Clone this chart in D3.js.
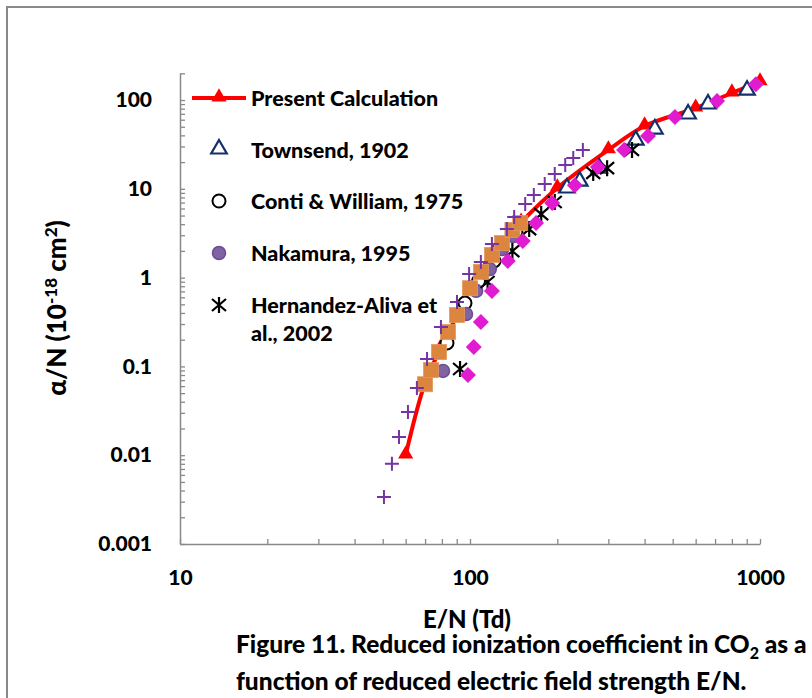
<!DOCTYPE html>
<html>
<head>
<meta charset="utf-8">
<script src="https://cdn.jsdelivr.net/npm/d3@7"></script>
<style>
  body { margin: 0; background: #fff; }
  text { font-family: Lato, "Open Sans", sans-serif; font-weight: 900; fill: #000; }
</style>
</head>
<body>
<svg id="chart" width="812" height="698"></svg>
<script>
// E/N (Td) and alpha/N (1e-18 cm2)
const presentEN = [60, 70, 80, 90, 100, 120, 150, 200, 300, 400, 600, 800, 1000];
const presentAlpha = [0.01, 0.065, 0.17, 0.37, 0.74, 1.9, 4.2, 10.2, 27.4, 51, 81, 120, 160];

const townsendEN = [216, 239, 279, 373, 434, 565, 662, 902];
const townsendAlpha = [9.95, 11.9, 16.7, 34.5, 45.9, 67.8, 87.9, 126];

const contiEN = [83.3, 96.1, 107, 121, 144];
const contiAlpha = [0.184, 0.517, 0.915, 1.54, 3.26];

const nakamuraEN = [80.7, 96.9, 105, 117, 129, 141];
const nakamuraAlpha = [0.089, 0.389, 0.71, 1.25, 2.10, 2.94];

const hernandezEN = [92.4, 115, 140, 160, 176, 196, 266, 297, 362];
const hernandezAlpha = [0.0935, 0.892, 1.99, 3.52, 5.20, 7.10, 15.1, 17.1, 27.4];

// series without legend entries
const squareEN = [70, 73.4, 78.2, 84, 90.2, 100, 109, 119, 129, 140, 149];
const squareAlpha = [0.063, 0.091, 0.145, 0.244, 0.379, 0.76, 1.16, 1.80, 2.45, 3.44, 4.12];

const plusEN = [50.5, 53.8, 56.9, 61.1, 65.6, 71.1, 79.4, 90.2, 99.3, 109, 119, 134, 142, 155, 166, 181, 196, 213, 227, 245];
const plusAlpha = [0.00338, 0.008, 0.016, 0.0306, 0.057, 0.121, 0.278, 0.531, 1.10, 1.50, 2.39, 3.52, 4.81, 6.75, 8.5, 11.3, 14.7, 18.5, 22.2, 27.4];

const diamondEN = [98.4, 103, 109, 119, 135, 152, 169, 192, 230, 276, 340, 411, 509, 711, 968];
const diamondAlpha = [0.080, 0.165, 0.316, 0.706, 1.54, 2.58, 4.12, 6.92, 11.0, 17.6, 27.4, 39.3, 64.4, 97.5, 151];

const xTickLabels = ['10', '100', '1000'];
const yTickLabels = ['0.001', '0.01', '0.1', '1', '10', '100'];

const legendNames = ['Present Calculation', 'Townsend, 1902', 'Conti & William, 1975', 'Nakamura, 1995', 'Hernandez-Aliva et|al., 2002'];

let svg = d3.select('#chart');
let axisColor = '#898989';

// outer frame
svg.append('rect')
  .attr('x', 7).attr('y', 7)
  .attr('width', 900).attr('height', 800)
  .attr('fill', 'none')
  .attr('stroke', axisColor)
  .attr('stroke-width', 2);

let x = d3.scaleLog().domain([10, 1000]).range([180, 760]);
let y = d3.scaleLog().domain([0.001, 200]).range([544, 73.3]);

function zip(xs, ys) {
  return xs.map((v, i) => { return { e: v, a: ys[i] }; });
}

// axes
let yAxis = d3.axisLeft(y)
  .tickValues(y.ticks())
  .tickSizeInner(-5)
  .tickSizeOuter(0)
  .tickPadding(28)
  .tickFormat((d) => {
    let i = yTickLabels.indexOf(String(+d.toPrecision(3)));
    return i >= 0 ? yTickLabels[i] : '';
  });

let xAxis = d3.axisBottom(x)
  .tickValues(x.ticks())
  .tickSizeInner(-5)
  .tickSizeOuter(0)
  .tickPadding(26)
  .tickFormat((d) => {
    let i = xTickLabels.indexOf(String(Math.round(d)));
    return i >= 0 ? xTickLabels[i] : '';
  });

let gy = svg.append('g').attr('transform', 'translate(180,0)').call(yAxis);
let gx = svg.append('g').attr('transform', 'translate(0,544)').call(xAxis);

[gx, gy].forEach((g) => {
  g.select('.domain').attr('stroke', axisColor).attr('stroke-width', 1.5);
  g.selectAll('.tick line').attr('stroke', axisColor).attr('stroke-width', 1.3);
  g.selectAll('.tick text')
    .style('font-family', 'Lato, sans-serif')
    .style('font-weight', '900')
    .style('font-size', '21px')
    .attr('fill', '#000');
});

// axis titles
svg.append('text')
  .attr('x', 467).attr('y', 628)
  .attr('text-anchor', 'middle')
  .style('font-size', '24px')
  .text('E/N (Td)');

let yt = svg.append('text')
  .attr('transform', 'translate(66,308) rotate(-90)')
  .attr('text-anchor', 'middle')
  .style('font-size', '26px');
yt.append('tspan').text('α/N (10');
yt.append('tspan').attr('dy', -9).style('font-size', '17px').text('-18');
yt.append('tspan').attr('dy', 9).text(' cm');
yt.append('tspan').attr('dy', -9).style('font-size', '17px').text('2');
yt.append('tspan').attr('dy', 9).text(')');

// markers
let plot = svg.append('g');

let line = d3.line()
  .x((d) => x(d.e))
  .y((d) => y(d.a))
  .curve(d3.curveCatmullRom.alpha(0.5));

let presentData = zip(presentEN, presentAlpha);

plot.append('path')
  .datum(presentData)
  .attr('d', line)
  .attr('fill', 'none')
  .attr('stroke', '#ff0000')
  .attr('stroke-width', 4);

let triSym = d3.symbol().type(d3.symbolTriangle);

function drawPresent(g, data) {
  g.selectAll(null)
    .data(data)
    .enter().append('path')
    .attr('d', triSym.size(100)())
    .attr('transform', (d) => `translate(${x(d.e)},${y(d.a) - 1})`)
    .attr('fill', '#ff0000');
}
drawPresent(plot, presentData);

function drawTownsend(g, data, px, py) {
  g.selectAll(null)
    .data(data)
    .enter().append('path')
    .attr('d', triSym.size(105)())
    .attr('transform', (d) => `translate(${px(d)},${py(d) - 1})`)
    .attr('fill', '#fff')
    .attr('stroke', '#13306a')
    .attr('stroke-width', 2.2);
}
drawTownsend(plot, zip(townsendEN, townsendAlpha), (d) => x(d.e), (d) => y(d.a));

function drawConti(g, data, px, py) {
  g.selectAll(null)
    .data(data)
    .enter().append('circle')
    .attr('cx', px).attr('cy', py)
    .attr('r', 6.5)
    .attr('fill', '#fff')
    .attr('stroke', '#000')
    .attr('stroke-width', 2);
}
drawConti(plot, zip(contiEN, contiAlpha), (d) => x(d.e), (d) => y(d.a));

function drawNakamura(g, data, px, py) {
  g.selectAll(null)
    .data(data)
    .enter().append('circle')
    .attr('cx', px).attr('cy', py)
    .attr('r', 6.5)
    .attr('fill', '#8064a2')
    .attr('stroke', '#6c4c96')
    .attr('stroke-width', 1.5);
}
drawNakamura(plot, zip(nakamuraEN, nakamuraAlpha), (d) => x(d.e), (d) => y(d.a));

function drawStar(g, data, px, py) {
  g.selectAll(null)
    .data(data)
    .enter().append('path')
    .attr('d', 'M-7,-6L7,6M-7,6L7,-6M0,-8V8')
    .attr('transform', (d) => `translate(${px(d)},${py(d)})`)
    .attr('fill', 'none')
    .attr('stroke', '#000')
    .attr('stroke-width', 2.2);
}
drawStar(plot, zip(hernandezEN, hernandezAlpha), (d) => x(d.e), (d) => y(d.a));

plot.selectAll('.sq')
  .data(zip(squareEN, squareAlpha))
  .enter().append('rect')
  .attr('x', (d) => x(d.e) - 7.5)
  .attr('y', (d) => y(d.a) - 7.5)
  .attr('width', 15).attr('height', 15)
  .attr('fill', '#dc853f')
  .attr('stroke', '#e39a5c')
  .attr('stroke-width', 0.8);

plot.selectAll('.plus')
  .data(zip(plusEN, plusAlpha))
  .enter().append('path')
  .attr('d', 'M-7,0H7M0,-7V7')
  .attr('transform', (d) => `translate(${x(d.e)},${y(d.a)})`)
  .attr('stroke', '#7434a4')
  .attr('stroke-width', 2);

plot.selectAll('.dia')
  .data(zip(diamondEN, diamondAlpha))
  .enter().append('path')
  .attr('d', 'M0,-8L8,0L0,8L-8,0Z')
  .attr('transform', (d) => `translate(${x(d.e)},${y(d.a)})`)
  .attr('fill', '#e01bd0');

// legend
let legend = svg.append('g');
let legendY = [98, 150, 201, 253, 305];
let one = [{ e: 0, a: 0 }];

legend.append('line')
  .attr('x1', 192).attr('x2', 246)
  .attr('y1', legendY[0]).attr('y2', legendY[0])
  .attr('stroke', '#ff0000')
  .attr('stroke-width', 4);
legend.append('path')
  .attr('d', triSym.size(100)())
  .attr('transform', `translate(219,${legendY[0] - 1})`)
  .attr('fill', '#ff0000');

drawTownsend(legend, one, () => 219, () => legendY[1]);
drawConti(legend, one, () => 219, () => legendY[2]);
drawNakamura(legend, one, () => 219, () => legendY[3]);
drawStar(legend, one, () => 219, () => legendY[4]);

legendNames.forEach((name, i) => {
  name.split('|').forEach((part, j) => {
    legend.append('text')
      .attr('x', 251)
      .attr('y', legendY[i] + j * 28)
      .attr('dy', '0.36em')
      .style('font-size', '21.5px')
      .text(part);
  });
});

// caption
let cap = svg.append('g');
let c1 = cap.append('text').attr('x', 236).attr('y', 653).style('font-size', '24.5px');
c1.append('tspan').text('Figure 11. Reduced ionization coefficient in CO');
c1.append('tspan').attr('dy', 6).style('font-size', '16px').text('2');
c1.append('tspan').attr('dy', -6).text(' as a');
cap.append('text').attr('x', 236).attr('y', 690).style('font-size', '24.5px')
  .text('function of reduced electric field strength E/N.');
</script>
</body>
</html>
